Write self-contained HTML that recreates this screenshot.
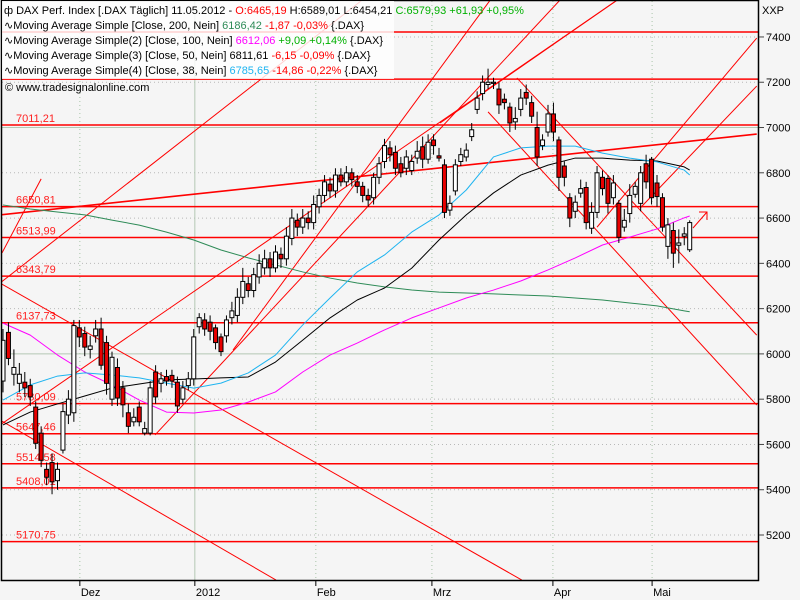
<!DOCTYPE html>
<html><head><meta charset="utf-8"><style>
html,body{margin:0;padding:0;background:#f5f5f5;}
svg{display:block;font-family:"Liberation Sans",sans-serif;}
</style></head><body>
<svg id="chart" width="800" height="600" xmlns="http://www.w3.org/2000/svg">
<defs><clipPath id="plotclip"><rect x="2" y="1" width="756" height="579"/></clipPath></defs>
<rect x="0" y="0" width="800" height="600" fill="#f5f5f5"/>
<g id="grid"></g>
<g id="levels" clip-path="url(#plotclip)"></g>
<g id="trends" clip-path="url(#plotclip)"></g>
<g id="mas" clip-path="url(#plotclip)"></g>
<g id="candles" clip-path="url(#plotclip)"></g>
<g id="axes"></g>
<g id="legend"></g>
</svg>
<script>
const opens=[5880,6095,5910,5870,5875,5860,5765,5650,5490,5520,5440,5575,5730,5740,6115,6090,6020,6080,6110,6050,5800,5940,5850,5740,5700,5765,5650,5650,5920,5870,5900,5905,5875,5800,5860,5890,6120,6150,6140,6115,6075,6080,6160,6170,6250,6310,6280,6340,6380,6420,6380,6440,6420,6510,6590,6560,6600,6580,6650,6700,6750,6720,6790,6760,6800,6760,6740,6700,6690,6780,6850,6910,6890,6840,6820,6810,6865,6915,6860,6945,6875,6835,6635,6720,6850,6870,6960,7080,7150,7190,7195,7170,7125,7090,7025,7080,7155,7110,7000,6920,6980,7060,6945,6830,6690,6630,6710,6735,6555,6625,6780,6775,6690,6665,6560,6620,6705,6665,6840,6860,6755,6690,6475,6545,6480,6520,6460];
const closes=[6060,5980,5940,5910,5850,5810,5605,5530,5455,5435,5490,5745,5800,6125,6075,6030,6035,6110,5950,5870,5985,5805,5775,5680,5720,5700,5670,5850,5810,5890,5880,5880,5770,5850,5890,6075,6160,6110,6100,6050,6010,6150,6190,6250,6320,6280,6350,6400,6420,6380,6450,6420,6520,6600,6560,6600,6580,6660,6700,6760,6720,6790,6760,6800,6770,6740,6700,6680,6780,6840,6920,6880,6820,6800,6870,6850,6895,6860,6935,6920,6865,6625,6665,6835,6880,6900,6990,7130,7200,7200,7200,7100,7110,7020,7040,7130,7130,7050,6870,6945,7060,6980,6780,6780,6600,6670,6730,6580,6625,6800,6730,6665,6755,6515,6590,6700,6740,6800,6760,6690,6695,6560,6570,6445,6490,6530,6580];
const highs=[6110,6140,6020,5960,5920,5890,5790,5680,5520,5560,5520,5780,5840,6150,6150,6120,6080,6150,6160,6080,6010,5980,5880,5780,5760,5790,5700,5880,5950,5920,5930,5930,5900,5880,5920,6110,6180,6180,6170,6130,6090,6170,6230,6290,6380,6340,6380,6440,6460,6450,6480,6470,6560,6640,6620,6640,6630,6700,6730,6790,6780,6820,6820,6830,6820,6790,6760,6730,6800,6870,6950,6940,6920,6870,6900,6880,6940,6960,6970,6970,6910,6860,6700,6860,6910,6930,7020,7160,7230,7260,7220,7200,7150,7110,7090,7170,7190,7140,7070,6970,7100,7110,6960,6850,6710,6700,6770,6760,6670,6830,6810,6790,6790,6680,6640,6750,6760,6830,6880,6870,6790,6710,6600,6580,6550,6560,6590];
const lows=[5830,5950,5860,5830,5810,5770,5580,5500,5420,5380,5400,5560,5690,5700,6030,5990,5980,6050,5930,5820,5770,5770,5720,5650,5680,5680,5640,5640,5780,5830,5860,5850,5740,5780,5840,5860,6090,6080,6060,6020,5990,6050,6130,6140,6220,6250,6250,6310,6350,6340,6360,6380,6390,6480,6520,6530,6550,6550,6620,6670,6690,6690,6740,6740,6740,6710,6670,6650,6660,6750,6820,6850,6790,6780,6790,6790,6840,6820,6840,6880,6850,6600,6610,6700,6830,6850,6940,7060,7120,7170,7170,7060,7080,6980,6990,7050,7100,7020,6830,6900,6960,6940,6720,6740,6560,6600,6690,6550,6530,6600,6700,6620,6660,6490,6540,6580,6690,6630,6730,6660,6650,6540,6420,6380,6400,6480,6450];

const maIdx=[0,5,10,15,20,25,30,35,40,45,50,55,60,65,70,75,80,85,90,95,100,105,110,115,120,125,126];
const ma200=[6658,6640,6627,6614,6591,6569,6538,6503,6459,6424,6393,6362,6335,6313,6296,6282,6273,6269,6265,6260,6256,6247,6238,6225,6212,6190,6186];
const ma100=[6136,6083,5995,5920,5863,5796,5743,5739,5752,5787,5832,5920,5995,6048,6106,6159,6203,6247,6282,6322,6371,6424,6481,6516,6552,6601,6609];
const ma50=[5686,5743,5779,5814,5849,5867,5885,5889,5894,5898,5964,6061,6159,6238,6291,6379,6503,6614,6711,6790,6834,6865,6865,6856,6852,6826,6812];
const ma38=[5796,5863,5902,5916,5907,5894,5871,5849,5871,5916,5995,6128,6247,6362,6437,6538,6614,6724,6870,6910,6918,6918,6887,6865,6848,6812,6790];

const levelVals=[7422,7214,7011.21,6650.81,6513.99,6343.79,6137.73,5780.09,5647.46,5514.58,5408.01,5170.75];
const levelLabels=["","","7011,21","6650,81","6513,99","6343,79","6137,73","5780,09","5647,46","5514,58","5408,01","5170,75"];

const trendStartIdx=[-0.55,-0.55,-0.55,-0.55,42.2,27.9,-0.18,-0.55,94.3,89.0,80.2,109.0,116.9];
const trendStartVal=[6313,6313,5708,5686,6017,5642,6446,6614,7219,7069,7020,6560,6644];
const trendEndIdx=[65.9,95.2,50.1,112.7,89.4,102.2,7.0,138.3,138.3,138.3,112.7,138.3,138.3];
const trendEndVal=[7563,5001,5001,7563,7563,7563,6773,6971,6083,5774,7563,7395,7183];

const yTicks=[5200,5400,5600,5800,6000,6200,6400,6600,6800,7000,7200,7400];
const monthIdx=[14.1,35.2,57.4,78.7,100.9,119.1];
const monthLabels=["Dez","2012","Feb","Mrz","Apr","Mai"];

const NS="http://www.w3.org/2000/svg";
function X(i){return 3+5.45*i;}
function Y(v){return 535-(v-5200)*0.22638;}
function mk(tag,attrs,parent){const e=document.createElementNS(NS,tag);for(const k in attrs)e.setAttribute(k,attrs[k]);parent.appendChild(e);return e;}

const grid=document.getElementById('grid');
yTicks.forEach(v=>{
  const solid=(v===6000||v===7000);
  const l=mk('line',{x1:2,x2:758,y1:Y(v),y2:Y(v),stroke:solid?'#b4c8b4':'#b8b8b8','stroke-dasharray':solid?'':'1,3','stroke-width':1},grid);
  
  
});
monthIdx.forEach((m,k)=>{
  const solid=(k===1);
  const l=mk('line',{x1:X(m),x2:X(m),y1:1,y2:580,stroke:solid?'#b4c8b4':'#a8c4a8','stroke-dasharray':solid?'':'1,3','stroke-width':1},grid);
  
  
});

const lev=document.getElementById('levels');
levelVals.forEach((v,k)=>{
  const l=mk('line',{x1:0,x2:758,y1:Y(v),y2:Y(v),stroke:'#ff0000','stroke-width':1.5},lev);
  
  
  if(levelLabels[k]){
    const t=mk('text',{x:16,y:Y(v)-3,fill:'#ff2020','font-size':11},lev);
    t.textContent=levelLabels[k];
    
    
  }
});

const tr=document.getElementById('trends');
trendStartIdx.forEach((s,k)=>{
  const l=mk('line',{x1:X(s),y1:Y(trendStartVal[k]),x2:X(trendEndIdx[k]),y2:Y(trendEndVal[k]),stroke:'#ff0000','stroke-width':k===7?1.6:1},tr);
  
  
});
const arrow=mk('path',{d:'M693,228 L707,212 M699,212 L707,212 L707,220',stroke:'#ff0000',fill:'none','stroke-width':1},tr);



const mas=document.getElementById('mas');
[[ma200,'#2e8b57'],[ma100,'#ff00ff'],[ma50,'#000000'],[ma38,'#1eb4f0']].forEach(([arr,c],k)=>{
  const pts=arr.map((v,j)=>X(maIdx[j])+','+Y(v)).join(' ');
  const p=mk('polyline',{points:pts,fill:'none',stroke:c,'stroke-width':1,'stroke-linejoin':'round'},mas);
  
  
});

const cg=document.getElementById('candles');
opens.forEach((o,i)=>{
  const c=closes[i],x=X(i);
  const g=mk('g',{},cg);
  
  
  mk('line',{x1:x,x2:x,y1:Y(highs[i]),y2:Y(lows[i]),stroke:'#000','stroke-width':1},g);
  const top=Y(Math.max(o,c)),bot=Y(Math.min(o,c));
  mk('rect',{x:x-2,y:top,width:4,height:Math.max(1,bot-top),fill:c>=o?'#ffffff':'#e80000',stroke:'#000','stroke-width':1},g);
});

const ax=document.getElementById('axes');
const fr=mk('rect',{x:1.5,y:0.5,width:757,height:580,fill:'none',stroke:'#000','stroke-width':1.5},ax);


yTicks.forEach(v=>{
  mk('line',{x1:759,x2:764,y1:Y(v),y2:Y(v),stroke:'#444'},ax);
  const t=mk('text',{x:766,y:Y(v)+4,'font-size':11,fill:'#000'},ax);
  t.textContent=String(v);
  
  
});
monthIdx.forEach((m,k)=>{
  mk('line',{x1:X(m),x2:X(m),y1:581,y2:586,stroke:'#000'},ax);
  const t=mk('text',{x:X(m)+1,y:596,'font-size':11,fill:'#000'},ax);
  t.textContent=monthLabels[k];
  
  
});
const unit=mk('text',{x:762,y:14,'font-size':11,fill:'#000'},ax);
unit.textContent='XXP';



const lg=document.getElementById('legend');
const bg=mk('rect',{x:2,y:1,width:392,height:78,fill:'rgba(255,255,255,0.82)'},lg);


function row(y,parts,name){
  const t=mk('text',{x:4,y:y,'font-size':11,fill:'#000'},lg);
  
  
  parts.forEach(([s,c])=>{const sp=mk('tspan',{fill:c},t);sp.textContent=s;});
}
row(14,[['ф DAX Perf. Index [.DAX  Täglich] 11.05.2012 - ','#000'],['O:6465,19 ','#ff0000'],['H:6589,01 L:6454,21 ','#000'],['C:6579,93 +61,93 +0,95%','#00b000']],'legend-price');
row(29,[['∿Moving Average Simple [Close, 200, Nein] ','#000'],['6186,42 ','#2e8b57'],['-1,87 -0,03% ','#ff0000'],['{.DAX}','#000']],'legend-ma200');
row(44,[['∿Moving Average Simple(2) [Close, 100, Nein] ','#000'],['6612,06 ','#ff00ff'],['+9,09 +0,14% ','#00b000'],['{.DAX}','#000']],'legend-ma100');
row(59,[['∿Moving Average Simple(3) [Close, 50, Nein] ','#000'],['6811,61 ','#000'],['-6,15 -0,09% ','#ff0000'],['{.DAX}','#000']],'legend-ma50');
row(74,[['∿Moving Average Simple(4) [Close, 38, Nein] ','#000'],['6785,65 ','#1eb4f0'],['-14,86 -0,22% ','#ff0000'],['{.DAX}','#000']],'legend-ma38');
const cp=mk('text',{x:5,y:91,'font-size':11,fill:'#000'},lg);
cp.textContent='© www.tradesignalonline.com';


</script>
</body></html>
